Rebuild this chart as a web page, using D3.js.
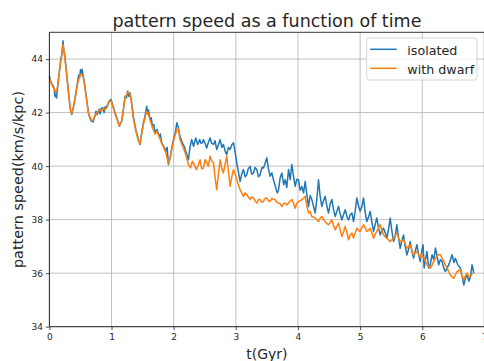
<!DOCTYPE html>
<html>
<head>
<meta charset="utf-8">
<script src="https://cdn.jsdelivr.net/npm/d3@7"></script>
<style>
  body { margin: 0; background: #fff; }
  svg { display: block; font-family: 'DejaVu Sans', sans-serif; }
  .tick text { fill: #262626; }
  .tick line { stroke: #262626; }
  .domain { display: none; }
</style>
</head>
<body>
<svg></svg>
<script>
// [t (Gyr), pattern speed]
const isolated = [
  [0,43.36],[0.02,43.18],[0.047,43.05],[0.074,42.93],[0.09,42.6],[0.1,42.68],[0.115,42.55],[0.128,42.87],
  [0.155,43.43],[0.18,43.93],[0.2,44.2],[0.219,44.68],[0.232,44.3],[0.246,44.18],[0.273,43.55],[0.305,42.8],
  [0.337,42.12],[0.359,41.93],[0.39,42.24],[0.423,42.68],[0.455,43.18],[0.47,43.4],[0.487,43.3],[0.5,43.6],
  [0.514,43.48],[0.525,43.62],[0.54,43.43],[0.568,43.05],[0.6,42.49],[0.632,41.93],[0.67,41.7],[0.702,41.65],
  [0.734,41.87],[0.75,42.05],[0.767,41.92],[0.8,42.12],[0.815,41.95],[0.831,42.15],[0.863,42.18],[0.88,42.0],
  [0.895,42.2],[0.928,42.24],[0.96,42.43],[0.992,42.49],[1.024,42.24],[1.056,41.99],[1.094,41.74],[1.126,41.49],
  [1.145,41.6],[1.164,41.68],[1.19,42.1],[1.217,42.62],[1.24,42.55],[1.26,42.8],[1.28,42.6],[1.297,42.74],
  [1.324,42.37],[1.35,41.87],[1.39,41.37],[1.432,40.99],[1.459,40.81],[1.485,41.24],[1.512,41.62],[1.539,41.87],
  [1.566,42.24],[1.58,41.95],[1.593,42.1],[1.62,41.74],[1.64,41.8],[1.657,41.49],[1.68,41.55],[1.7,41.24],
  [1.732,41.37],[1.765,41.12],[1.785,41.2],[1.807,40.87],[1.84,40.74],[1.872,40.56],[1.895,40.7],[1.915,40.06],
  [1.947,40.37],[1.98,40.81],[2.01,41.12],[2.03,41.3],[2.05,41.62],[2.076,41.43],[2.1,41.12],[2.14,40.87],
  [2.17,40.74],[2.21,40.43],[2.237,40.24],[2.264,40.74],[2.29,40.99],[2.32,40.74],[2.355,41.05],[2.387,40.81],
  [2.42,40.99],[2.44,40.85],[2.462,40.87],[2.479,40.99],[2.505,40.85],[2.532,40.68],[2.56,40.9],[2.586,41.05],
  [2.61,40.85],[2.64,40.81],[2.665,40.95],[2.693,40.62],[2.72,40.8],[2.747,40.99],[2.775,40.7],[2.8,40.81],
  [2.83,40.55],[2.854,40.43],[2.88,40.7],[2.908,40.62],[2.935,40.8],[2.962,40.87],[2.99,40.5],[3.015,40.12],
  [3.04,39.8],[3.069,39.43],[3.095,39.7],[3.123,39.87],[3.15,39.6],[3.176,39.68],[3.2,39.9],[3.23,39.99],
  [3.255,39.7],[3.284,39.74],[3.31,39.95],[3.337,39.87],[3.365,39.6],[3.391,39.68],[3.42,39.95],[3.445,39.93],
  [3.47,40.1],[3.498,40.31],[3.525,39.9],[3.552,39.62],[3.58,39.75],[3.606,39.49],[3.63,39.3],[3.649,39.12],
  [3.67,39.0],[3.687,39.12],[3.713,39.56],[3.74,39.74],[3.77,39.3],[3.794,39.49],[3.82,39.2],[3.848,39.87],
  [3.875,39.5],[3.901,40.06],[3.93,39.6],[3.955,39.24],[3.98,39.5],[4.009,39.49],[4.035,39.1],[4.062,39.24],
  [4.09,39.0],[4.116,39.43],[4.145,38.9],[4.17,38.49],[4.195,38.9],[4.223,38.75],[4.25,38.5],[4.277,38.25],
  [4.305,38.8],[4.331,39.49],[4.355,38.9],[4.384,38.49],[4.41,38.7],[4.438,38.87],[4.465,38.5],[4.492,38.25],
  [4.52,38.6],[4.545,38.75],[4.57,38.4],[4.599,38.12],[4.625,38.3],[4.653,38.49],[4.68,38.2],[4.706,37.99],
  [4.735,38.2],[4.76,38.37],[4.79,38.1],[4.814,37.99],[4.84,38.18],[4.868,38.25],[4.894,37.93],[4.92,38.3],
  [4.947,38.81],[4.975,38.5],[5.001,38.31],[5.03,38.5],[5.055,38.81],[5.08,38.3],[5.108,37.93],[5.135,38.1],
  [5.162,38.31],[5.19,37.9],[5.216,37.56],[5.24,37.8],[5.269,38.06],[5.295,37.7],[5.323,37.43],[5.35,37.6],
  [5.377,37.68],[5.405,37.5],[5.43,37.31],[5.455,37.6],[5.484,38.06],[5.51,37.6],[5.538,37.18],[5.565,37.4],
  [5.591,37.81],[5.62,37.3],[5.645,36.93],[5.67,37.2],[5.699,37.43],[5.725,37.0],[5.753,36.68],[5.78,36.9],
  [5.806,37.18],[5.835,36.8],[5.86,36.56],[5.885,36.8],[5.914,37.06],[5.94,36.7],[5.967,36.44],[5.99,36.8],
  [6.013,37.06],[6.03,36.2],[6.05,36.5],[6.075,36.81],[6.104,36.19],[6.128,36.31],[6.158,36.69],[6.185,36.5],
  [6.212,36.94],[6.24,36.6],[6.265,36.31],[6.29,36.5],[6.319,36.44],[6.345,36.2],[6.373,36.06],[6.4,36.2],
  [6.426,36.31],[6.455,36.5],[6.48,36.69],[6.51,36.4],[6.534,36.56],[6.571,36.31],[6.614,36.19],[6.64,35.9],
  [6.668,35.56],[6.695,35.8],[6.721,35.94],[6.75,35.7],[6.775,35.87],[6.802,36.31],[6.829,36.0]
];

const withDwarf = [
  [0,43.3],[0.02,43.15],[0.047,43.0],[0.074,42.9],[0.1,42.75],[0.128,42.9],[0.155,43.4],[0.18,43.85],
  [0.2,44.15],[0.219,44.55],[0.24,44.2],[0.273,43.55],[0.305,42.8],[0.337,42.15],[0.359,41.95],[0.39,42.25],
  [0.423,42.65],[0.455,43.1],[0.487,43.35],[0.514,43.45],[0.54,43.35],[0.568,43.0],[0.6,42.45],[0.632,41.95],
  [0.67,41.75],[0.702,41.7],[0.734,41.9],[0.767,42.0],[0.8,42.1],[0.831,42.05],[0.863,42.15],[0.895,42.1],
  [0.928,42.2],[0.96,42.4],[0.992,42.45],[1.024,42.2],[1.056,41.95],[1.094,41.7],[1.126,41.5],[1.164,41.7],
  [1.19,42.1],[1.217,42.55],[1.26,42.75],[1.297,42.7],[1.324,42.3],[1.35,41.8],[1.39,41.3],[1.432,40.95],
  [1.459,40.85],[1.485,41.2],[1.512,41.55],[1.539,41.8],[1.566,42.05],[1.593,41.95],[1.62,41.7],[1.657,41.45],
  [1.7,41.2],[1.732,41.3],[1.765,41.1],[1.807,40.85],[1.84,40.7],[1.872,40.5],[1.915,40.1],[1.947,40.35],
  [1.98,40.75],[2.01,41.05],[2.05,41.35],[2.076,41.4],[2.1,41.0],[2.14,40.75],[2.17,40.6],[2.21,40.3],
  [2.237,40.06],[2.27,39.93],[2.3,40.18],[2.33,40.06],[2.365,39.87],[2.398,40.06],[2.425,40.24],[2.45,39.9],
  [2.479,39.93],[2.505,40.24],[2.532,40.12],[2.56,40.0],[2.586,40.37],[2.61,40.2],[2.64,40.12],[2.665,39.6],
  [2.693,39.12],[2.72,39.7],[2.747,40.24],[2.775,39.9],[2.8,39.74],[2.83,40.1],[2.854,40.37],[2.88,39.8],
  [2.908,39.24],[2.935,39.6],[2.962,39.87],[2.99,39.7],[3.015,39.49],[3.04,39.3],[3.069,39.12],[3.095,39.0],
  [3.123,38.87],[3.15,39.0],[3.176,38.93],[3.2,38.85],[3.23,38.75],[3.255,38.85],[3.284,38.81],[3.31,38.7],
  [3.337,38.62],[3.365,38.75],[3.391,38.75],[3.42,38.65],[3.445,38.68],[3.47,38.8],[3.498,38.81],[3.525,38.7],
  [3.552,38.68],[3.58,38.8],[3.606,38.75],[3.633,38.75],[3.66,38.65],[3.687,38.62],[3.713,38.6],[3.74,38.49],
  [3.77,38.6],[3.794,38.62],[3.82,38.55],[3.848,38.62],[3.875,38.7],[3.901,38.75],[3.93,38.6],[3.955,38.43],
  [3.98,38.6],[4.009,38.68],[4.035,38.7],[4.062,38.75],[4.09,38.8],[4.116,38.87],[4.145,38.5],[4.17,38.25],
  [4.195,38.3],[4.223,38.12],[4.25,38.1],[4.277,38.06],[4.305,38.0],[4.331,37.93],[4.355,38.05],[4.384,38.12],
  [4.41,38.0],[4.438,37.93],[4.465,37.85],[4.492,37.81],[4.52,37.9],[4.545,37.99],[4.57,37.8],[4.599,37.62],
  [4.625,37.75],[4.653,37.87],[4.68,37.6],[4.706,37.37],[4.735,37.55],[4.76,37.75],[4.79,37.5],[4.814,37.25],
  [4.84,37.43],[4.868,37.5],[4.894,37.31],[4.92,37.5],[4.947,37.68],[4.975,37.6],[5.001,37.56],[5.03,37.7],
  [5.055,37.81],[5.08,37.7],[5.108,37.56],[5.135,37.6],[5.162,37.68],[5.19,37.5],[5.216,37.31],[5.24,37.45],
  [5.269,37.56],[5.295,37.7],[5.323,37.81],[5.35,37.6],[5.377,37.43],[5.405,37.35],[5.43,37.31],[5.455,37.25],
  [5.484,37.18],[5.51,37.25],[5.538,37.31],[5.565,37.4],[5.591,37.5],[5.62,37.3],[5.645,37.18],[5.67,37.2],
  [5.699,37.25],[5.725,37.1],[5.753,36.93],[5.78,37.0],[5.806,37.06],[5.835,36.85],[5.86,36.68],[5.885,36.75],
  [5.914,36.81],[5.94,36.7],[5.967,36.6],[5.99,36.7],[6.024,36.56],[6.05,36.45],[6.077,36.31],[6.104,36.25],
  [6.131,36.19],[6.158,36.3],[6.185,36.44],[6.21,36.55],[6.238,36.62],[6.265,36.7],[6.292,36.69],[6.32,36.55],
  [6.346,36.44],[6.373,36.3],[6.4,36.19],[6.426,36.05],[6.453,35.94],[6.48,35.85],[6.507,35.81],[6.535,35.95],
  [6.56,36.06],[6.587,36.1],[6.614,36.12],[6.64,35.9],[6.67,35.75],[6.695,35.9],[6.72,36.0],[6.75,35.85],
  [6.78,35.9],[6.81,36.0]
];

const xTicks = [0, 1, 2, 3, 4, 5, 6, 7];
const yTicks = [34, 36, 38, 40, 42, 44];
const seriesNames = ['isolated', 'with dwarf'];
const colors = ['#1f77b4', '#ff7f0e'];

(function (d3) {
  'use strict';

  const width = 484;
  const height = 361;
  const margin = { top: 32.3, right: -0.4, bottom: 34.3, left: 49.4 };
  const innerWidth = width - margin.left - margin.right;
  const innerHeight = height - margin.top - margin.bottom;

  const svg = d3.select('svg')
      .attr('width', width)
      .attr('height', height);

  const g = svg.append('g')
      .attr('transform', `translate(${margin.left},${margin.top})`);

  const x = d3.scaleLinear().domain([0, 7]).range([0, innerWidth]);
  const y = d3.scaleLinear().domain([34, 45]).range([innerHeight, 0]);

  // grid
  g.append('g').selectAll('line').data(xTicks)
    .enter().append('line')
      .attr('x1', d => x(d)).attr('x2', d => x(d))
      .attr('y1', 0).attr('y2', innerHeight)
      .attr('stroke', '#b0b0b0').attr('stroke-width', 0.8);
  g.append('g').selectAll('line').data(yTicks)
    .enter().append('line')
      .attr('x1', 0).attr('x2', innerWidth)
      .attr('y1', d => y(d)).attr('y2', d => y(d))
      .attr('stroke', '#b0b0b0').attr('stroke-width', 0.8);

  // axes
  const xAxis = g.append('g')
      .attr('transform', `translate(0,${innerHeight})`)
      .call(d3.axisBottom(x).tickValues(xTicks).tickSize(3.5).tickPadding(3).tickFormat(d3.format('d')));
  const yAxis = g.append('g')
      .call(d3.axisLeft(y).tickValues(yTicks).tickSize(3.5).tickPadding(3).tickFormat(d3.format('d')));
  [xAxis, yAxis].forEach(a => a.selectAll('text').attr('font-size', 9).attr('font-family', 'DejaVu Sans'));
  [xAxis, yAxis].forEach(a => a.selectAll('.tick line').attr('stroke-width', 0.8));

  // lines
  const line = d3.line().x(d => x(d[0])).y(d => y(d[1]));
  [isolated, withDwarf].forEach((s, i) => {
    g.append('path')
        .datum(s)
        .attr('d', line)
        .attr('fill', 'none')
        .attr('stroke', colors[i])
        .attr('stroke-width', 1.5)
        .attr('stroke-linejoin', 'round');
  });

  // spines
  g.append('line').attr('x1', 0).attr('x2', 0).attr('y1', 0).attr('y2', innerHeight)
      .attr('stroke', '#000').attr('stroke-width', 0.8);
  g.append('line').attr('x1', 0).attr('x2', innerWidth).attr('y1', 0).attr('y2', 0)
      .attr('stroke', '#000').attr('stroke-width', 0.8);
  g.append('line').attr('x1', 0).attr('x2', innerWidth).attr('y1', innerHeight).attr('y2', innerHeight)
      .attr('stroke', '#000').attr('stroke-width', 0.8);
  g.append('line').attr('x1', innerWidth).attr('x2', innerWidth).attr('y1', 0).attr('y2', innerHeight)
      .attr('stroke', '#000').attr('stroke-width', 0.8);

  // legend
  const legend = svg.append('g').attr('transform', 'translate(366.7,38)');
  legend.append('rect')
      .attr('width', 110.3).attr('height', 42).attr('rx', 2.5)
      .attr('fill', '#fff').attr('fill-opacity', 0.8)
      .attr('stroke', '#cccccc').attr('stroke-width', 0.8);
  seriesNames.forEach((name, i) => {
    legend.append('line')
        .attr('x1', 3.5).attr('x2', 30).attr('y1', 11.3 + i * 19).attr('y2', 11.3 + i * 19)
        .attr('stroke', colors[i]).attr('stroke-width', 1.5);
    legend.append('text')
        .attr('x', 40.6).attr('y', 16.6 + i * 19)
        .attr('font-size', 12.7).attr('fill', '#262626')
        .text(name);
  });

  // title and labels
  svg.append('text')
      .attr('x', margin.left + innerWidth / 2).attr('y', 27)
      .attr('text-anchor', 'middle').attr('font-size', 17.5).attr('fill', '#262626')
      .text('pattern speed as a function of time');
  svg.append('text')
      .attr('x', margin.left + innerWidth / 2).attr('y', 358.5)
      .attr('text-anchor', 'middle').attr('font-size', 14).attr('fill', '#262626')
      .text('t(Gyr)');
  svg.append('text')
      .attr('transform', 'translate(23,179.5) rotate(-90)')
      .attr('text-anchor', 'middle').attr('font-size', 14.4).attr('fill', '#262626')
      .text('pattern speed(km/s/kpc)');

}(d3));
</script>
</body>
</html>
